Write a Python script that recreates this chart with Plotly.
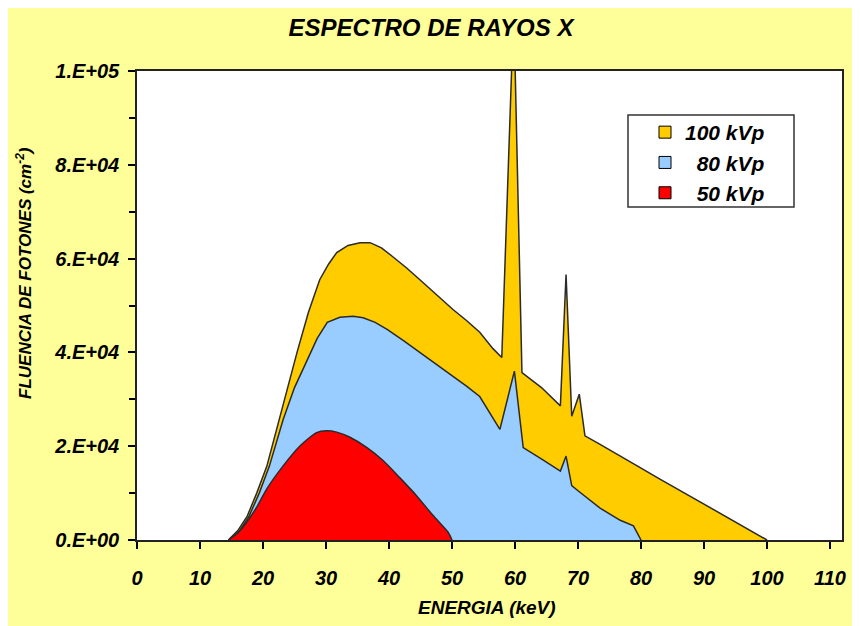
import plotly.graph_objects as go

# ---- data (energy in keV, fluence in photons/cm^2) ----
energy_100 = [14.5, 16.0, 17.5, 19.0, 20.6, 22.7, 25.4, 27.2, 29.0, 30.4,
              31.7, 33.5, 35.4, 37.0, 38.8, 40.6, 42.8, 44.9, 47.5, 50.2,
              52.3, 54.4, 56.5, 57.9, 59.8, 61.1, 64.2, 67.2, 68.1, 69.0,
              70.2, 71.1, 73.5, 76.7, 79.8, 83.0, 86.9, 90.9, 95.4, 100.0]
fluence_100 = [0, 2000, 5100, 10000, 15700, 26400, 40000, 48500, 55500, 58800,
               61300, 62800, 63400, 63400, 62300, 60400, 58000, 55500, 52300, 49100,
               46800, 44300, 40800, 38900, 113600, 35700, 32500, 28600, 56600, 26400,
               31100, 22200, 20400, 18000, 15500, 13000, 10000, 7000, 3600, 0]

energy_80 = [14.8, 16.3, 17.8, 19.4, 21.0, 23.2, 25.0, 27.0, 28.6, 30.2,
             32.2, 34.3, 35.9, 37.8, 39.7, 42.3, 44.9, 47.5, 50.2, 52.3,
             54.4, 57.6, 59.9, 61.3, 64.3, 67.2, 68.1, 69.0, 70.0, 73.5,
             76.7, 78.8, 80.0]
fluence_80 = [0, 2000, 5100, 10000, 15700, 25700, 32500, 38500, 43000, 46400,
              47500, 47700, 47400, 46400, 44900, 42500, 40000, 37400, 34900, 32800,
              30600, 23600, 36000, 19700, 17200, 14700, 17900, 11600, 10500, 6800,
              4200, 3000, 0]

energy_50 = [14.5, 16.0, 17.4, 19.0, 20.6, 23.2, 25.9, 28.5, 30.1, 31.7,
             33.8, 36.5, 39.1, 41.7, 44.4, 47.0, 49.4, 50.0]
fluence_50 = [0, 1500, 3800, 7000, 10900, 15800, 20100, 22900, 23300, 23000,
              21900, 19700, 16900, 13300, 9400, 5200, 1600, 0]

series_names = ["100 kVp", "\u200780 kVp", "\u200750 kVp"]
series_colors = ["#FFCC00", "#99CCFF", "#FF0000"]

x_tick_values = [0, 10, 20, 30, 40, 50, 60, 70, 80, 90, 100, 110]
y_tick_values = [0, 20000, 40000, 60000, 80000, 100000]
y_tick_labels = ["0.E+00", "2.E+04", "4.E+04", "6.E+04", "8.E+04", "1.E+05"]

FONT = "Liberation Sans, Arial, sans-serif"
bold_it = dict(family=FONT, color="black", weight="bold", style="italic")

# the page body adds an 8px offset; positions below compensate for it
OFF = 8
L, T = 137 - OFF, 71 - OFF
PW, PH = 705, 469
W, H = 860, 626

fig = go.Figure()

series = [(energy_100, fluence_100), (energy_80, fluence_80), (energy_50, fluence_50)]
for i, (xs, ys) in enumerate(series):
    fig.add_trace(go.Scatter(
        x=xs, y=ys, mode="lines", fill="tozeroy",
        fillcolor=series_colors[i],
        line=dict(color="#2a2a2a", width=1.5, shape="spline" if i == 2 else "linear", smoothing=0.6),
        showlegend=False, hoverinfo="x+y",
    ))

# legend swatches
for i, name in enumerate(series_names):
    fig.add_trace(go.Scatter(
        x=[None], y=[None], mode="markers", name=name, legendgroup=str(i),
        marker=dict(symbol="square", size=12, color=series_colors[i],
                    line=dict(color="black", width=1)),
    ))


def px(xp):
    return (xp - 137) / PW


def py(yp):
    return (540 - yp) / PH


fig.update_layout(
    width=W, height=H,
    margin=dict(l=L, r=W - L - PW, t=T, b=H - T - PH, autoexpand=False),
    paper_bgcolor="#FFFF99", plot_bgcolor="white",
    title=dict(text="ESPECTRO DE RAYOS X", x=(431 - OFF) / W, xref="container", xanchor="center",
               y=1 - (28 - OFF) / H, yref="container", yanchor="middle",
               font=dict(size=24, **bold_it)),
    legend=dict(x=px(645), y=py(112), xanchor="left", yanchor="top",
                bgcolor="rgba(0,0,0,0)", borderwidth=0, tracegroupgap=3,
                font=dict(size=21, **bold_it), traceorder="normal"),
    shapes=[dict(type="rect", xref="paper", yref="paper",
                 x0=px(628), x1=px(794), y0=py(115), y1=py(207),
                 line=dict(color="#333333", width=1.5), fillcolor="white", layer="below")],
    annotations=[
        dict(text="ENERGIA (keV)", xref="paper", yref="paper", x=px(487),
             y=py(607), showarrow=False, xanchor="center", yanchor="middle",
             font=dict(size=19, **bold_it)),
        dict(text="FLUENCIA DE FOTONES (cm<sup>-2</sup>)", xref="paper", yref="paper",
             x=px(24), y=py(273), textangle=-90, showarrow=False,
             xanchor="center", yanchor="middle", font=dict(size=17, **bold_it)),
    ],
)

fig.update_xaxes(
    range=[0, 111.9], tickvals=x_tick_values, ticks="outside", ticklen=7,
    tickcolor="black", tickwidth=1.5, showline=True, linecolor="#222222", linewidth=1.5,
    mirror=True, showgrid=False, zeroline=False, ticklabelstandoff=12,
    tickfont=dict(size=20, **bold_it),
)
fig.update_yaxes(
    range=[0, 100000], tickvals=y_tick_values, ticktext=y_tick_labels, ticks="outside",
    ticklen=7, tickcolor="black", tickwidth=1.5, showline=True, linecolor="#222222",
    linewidth=1.5, mirror=True, showgrid=False, zeroline=False, ticklabelstandoff=5,
    minor=dict(dtick=10000, ticks="outside", ticklen=6, tickcolor="black", tickwidth=1.5),
    tickfont=dict(size=20, **bold_it),
)

fig.write_html("out.html")
